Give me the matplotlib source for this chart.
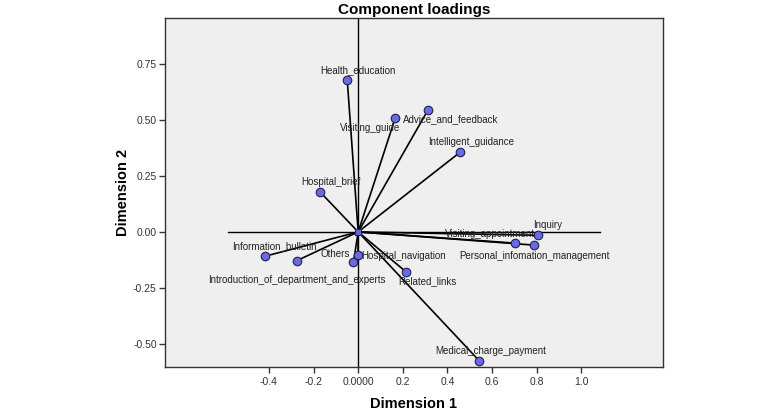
import matplotlib.pyplot as plt

plt.rcParams['font.family'] = ['Liberation Sans', 'DejaVu Sans']

# component loadings
labels = ["Health_education", "Visiting_guide", "Advice_and_feedback",
          "Intelligent_guidance", "Hospital_brief", "Inquiry",
          "Visiting_appointment", "Personal_infomation_management",
          "Information_bulletin", "Introduction_of_department_and_experts",
          "Others", "Hospital_navigation", "Related_links",
          "Medical_charge_payment"]
dim1 = [-0.049, 0.166, 0.313, 0.458, -0.171, 0.805, 0.702, 0.789,
        -0.419, -0.274, -0.021, -0.001, 0.213, 0.543]
dim2 = [0.679, 0.509, 0.545, 0.357, 0.179, -0.015, -0.050, -0.059,
        -0.109, -0.128, -0.135, -0.103, -0.177, -0.576]

# label offsets in pixels (text centre relative to point)
offsets = {
    "Health_education": (11, 10),
    "Visiting_guide": (-25, -10),
    "Advice_and_feedback": (23, -9),
    "Intelligent_guidance": (11, 10),
    "Hospital_brief": (11, 10),
    "Inquiry": (10, 10),
    "Visiting_appointment": (-25, 9),
    "Personal_infomation_management": (0, -11),
    "Information_bulletin": (10, 10),
    "Introduction_of_department_and_experts": (0, -19),
    "Others": (-18, 8),
    "Hospital_navigation": (46, -1),
    "Related_links": (22, -10),
    "Medical_charge_payment": (11, 10),
}

fig = plt.figure(figsize=(7.7, 4.12), dpi=100)
ax = fig.add_axes([165/770, 1-367/412, (663-165)/770, (367-18)/412])
ax.set_facecolor('#efefef')

ax.set_xlim(-0.865, 1.365)
ax.set_ylim(-0.603, 0.955)

# reference lines
ax.axvline(0, color='black', lw=1.0, zorder=1)
ax.plot([-0.584, 1.085], [0, 0], color='black', lw=1.0, zorder=1)

for x, y in zip(dim1, dim2):
    ax.plot([0, x], [0, y], color='black', lw=1.2, zorder=2)

ax.plot([0], [0], marker='s', ms=4, mfc='#6666dd', mec='#222266', mew=0.8, zorder=3)
ax.scatter(dim1, dim2, s=38, color='#6a6ae6', edgecolor='#22224a', linewidth=0.8, zorder=4)

for lab, x, y in zip(labels, dim1, dim2):
    dx, dy = offsets[lab]
    ax.annotate(lab, (x, y), xytext=(dx, dy), textcoords='offset pixels',
                ha='center', va='center', fontsize=7, color='#222222', zorder=5)

ax.set_xticks([-0.4, -0.2, 0.0, 0.2, 0.4, 0.6, 0.8, 1.0])
ax.set_xticklabels(["-0.4", "-0.2", "0.0000", "0.2", "0.4", "0.6", "0.8", "1.0"])
ax.set_yticks([-0.5, -0.25, 0.0, 0.25, 0.5, 0.75])
ax.set_yticklabels(["-0.50", "-0.25", "0.00", "0.25", "0.50", "0.75"])
ax.tick_params(labelsize=7.5, length=4, width=1, colors='#333333', labelcolor='#333333')
ax.tick_params(axis='y', pad=2)
for s in ax.spines.values():
    s.set_color('#333333')
    s.set_linewidth(1.0)

ax.set_title("Component loadings", fontsize=11, fontweight='bold', pad=3)
ax.set_xlabel("Dimension 1", fontsize=10.5, fontweight='bold', labelpad=7)
ax.set_ylabel("Dimension 2", fontsize=10.5, fontweight='bold', labelpad=2)

fig.savefig("out.png", dpi=100)
